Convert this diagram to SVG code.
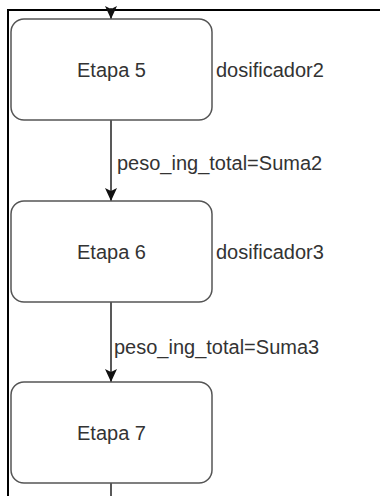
<svg xmlns="http://www.w3.org/2000/svg" width="380" height="496" viewBox="0 0 380 496">
  <style>
    .node rect { fill: #ffffff; stroke: #555555; stroke-width: 1.5; }
    .label { font-family: "Liberation Sans", Arial, sans-serif; font-size: 20px; fill: #333333; }
    .mid { text-anchor: middle; }
    .edge { stroke: #222222; stroke-width: 1.5; fill: none; }
    .frame { stroke: #000000; stroke-width: 2; fill: none; }
  </style>
  <defs>
    <!-- filled arrowhead, tip at the end of the line -->
    <marker id="arrow" markerUnits="userSpaceOnUse" markerWidth="13" markerHeight="12" viewBox="0 0 13 12" refX="13" refY="6" orient="auto">
      <path d="M0,0 L13,6 L0,12 L3,6 Z" fill="#111111"/>
    </marker>
  </defs>

  <rect x="0" y="0" width="380" height="496" fill="#ffffff"/>

  <!-- outer frame (top and left edges) -->
  <path class="frame" d="M8,496 L8,10 L380,10"/>

  <!-- connectors -->
  <g id="connectors">
    <line class="edge" x1="111" y1="8" x2="111" y2="19" marker-end="url(#arrow)"/>
    <line class="edge" x1="111" y1="120" x2="111" y2="201" marker-end="url(#arrow)"/>
    <line class="edge" x1="111" y1="302" x2="111" y2="382" marker-end="url(#arrow)"/>
    <line class="edge" x1="111" y1="483" x2="111" y2="496"/>
    <text class="label" x="117" y="169.5">peso_ing_total=Suma2</text>
    <text class="label" x="114" y="354">peso_ing_total=Suma3</text>
  </g>

  <g id="etapa5" class="node">
    <rect x="11" y="19" width="201" height="101" rx="13" ry="13"/>
    <text class="label mid" x="111.5" y="77">Etapa 5</text>
  </g>
  <g id="dosificador2">
    <text class="label" x="216" y="77">dosificador2</text>
  </g>

  <g id="etapa6" class="node">
    <rect x="11" y="201" width="201" height="101" rx="13" ry="13"/>
    <text class="label mid" x="111.5" y="258.5">Etapa 6</text>
  </g>
  <g id="dosificador3">
    <text class="label" x="216" y="258.5">dosificador3</text>
  </g>

  <g id="etapa7" class="node">
    <rect x="11" y="382" width="201" height="101" rx="13" ry="13"/>
    <text class="label mid" x="111.5" y="439.5">Etapa 7</text>
  </g>
</svg>
